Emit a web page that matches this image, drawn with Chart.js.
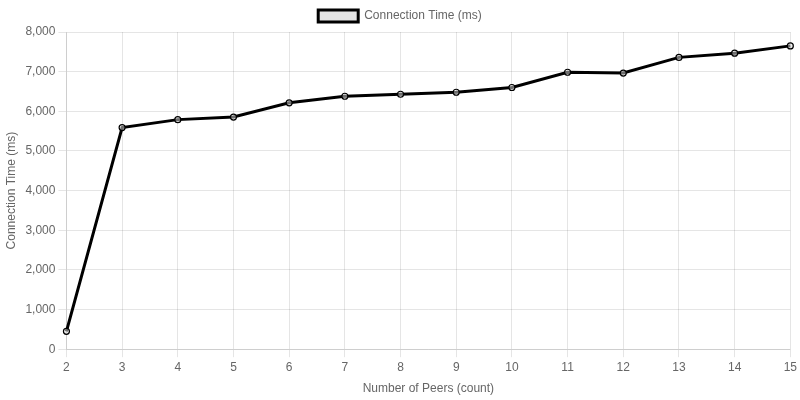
<!DOCTYPE html>
<html>
<head>
<meta charset="utf-8">
<script src="https://cdn.jsdelivr.net/npm/chart.js@4"></script>
<style>
  html, body { margin: 0; padding: 0; background: #fff; }
  #wrap { width: 800px; height: 400px; }
</style>
</head>
<body>
<div id="wrap"><canvas id="myChart"></canvas></div>
<script>
const peers = ['2', '3', '4', '5', '6', '7', '8', '9', '10', '11', '12', '13', '14', '15'];
const connectionTimes = [450, 5590, 5790, 5855, 6215, 6380, 6430, 6480, 6600, 6985, 6965, 7360, 7465, 7650];

const data = {
    labels: peers,
    datasets: [{
        label: 'Connection Time (ms)',
        data: connectionTimes,
        borderColor: '#000',
        backgroundColor: 'rgba(220, 220, 220, 0.8)',
        borderWidth: 3,
        pointRadius: 3,
        pointBorderWidth: 1.2,
        pointBackgroundColor: 'rgba(220, 220, 220, 0.5)',
        tension: 0,
    }]
};

const config = {
    type: 'line',
    data: data,
    options: {
        responsive: true,
        maintainAspectRatio: false,
        animation: false,
        plugins: {
            legend: {
                position: 'top',
            }
        },
        scales: {
            x: {
                title: { display: true, text: 'Number of Peers (count)' }
            },
            y: {
                min: 0,
                max: 8000,
                ticks: { stepSize: 1000 },
                title: { display: true, text: 'Connection Time (ms)' }
            }
        }
    }
};

new Chart(document.getElementById('myChart'), config);
</script>
</body>
</html>
